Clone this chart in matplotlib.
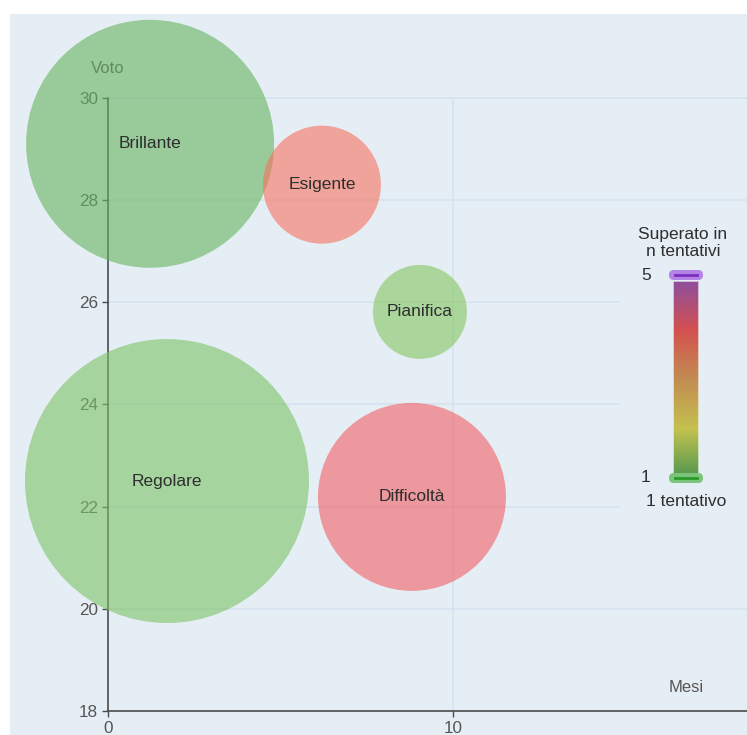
import numpy as np
import matplotlib
matplotlib.use("Agg")
from matplotlib import pyplot as plt
from matplotlib.colors import LinearSegmentedColormap
from matplotlib.patches import Rectangle, FancyBboxPatch
from matplotlib.lines import Line2D

plt.rcParams['font.family'] = ['Liberation Sans', 'DejaVu Sans']

#* dati
profili = ['Brillante', 'Esigente', 'Pianifica', 'Regolare', 'Difficoltà']
mesi = [1.22, 6.2, 9.04, 1.71, 8.81]
voto = [29.1, 28.3, 25.81, 22.5, 22.19]
ampiezza = [124, 59, 47, 142, 94]   # raggio bolla (px)
tentativi = [1, 4, 1, 1, 4]
x_ticks = [0, 10]
y_ticks = [18, 20, 22, 24, 26, 28, 30]

colori = ['#66b45d', '#f7715d', '#85c75f', '#7ac364', '#f35e64']
bg = '#e6eef5'
grid_col = '#d6e3ee'
txt_grey = '#555555'

W, H = 747, 735
fig = plt.figure(figsize=(W / 100, H / 100), dpi=100)

def fx(px):
    return px / W

def fy(py):
    return 1 - py / H

ax = fig.add_axes([fx(10), 0, 737 / W, 721 / H])
ax.set_facecolor(bg)
xmin, xmax = -2.84, 18.52
ax.set_xlim(xmin, xmax)
ax.set_ylim(17.53, 31.64)

# griglia
for y in y_ticks[1:]:
    ax.hlines(y, 0, xmax, color=grid_col, lw=1.2, zorder=0.5)
ax.vlines(10, 18, 30, color=grid_col, lw=1.2, zorder=0.5)

# sfondo legenda (copre la griglia)
ax.add_patch(Rectangle((fx(620), fy(520)), 127 / W, 305 / H, transform=fig.transFigure,
                       facecolor=bg, edgecolor='none', zorder=1, clip_on=False))

# assi
for s in ['top', 'right']:
    ax.spines[s].set_visible(False)
ax.spines['left'].set_position(('data', 0))
ax.spines['left'].set_bounds(18, 30)
ax.spines['bottom'].set_position(('data', 18))
ax.spines['bottom'].set_bounds(0, xmax)
for s in ['left', 'bottom']:
    ax.spines[s].set_color('#4a4a4a')
    ax.spines[s].set_linewidth(1.2)
ax.set_xticks(x_ticks)
ax.set_yticks(y_ticks)
ax.tick_params(direction='out', length=4, width=1, colors='#4a4a4a',
               labelcolor=txt_grey, labelsize=12.3, pad=3)

ax.text(0, 30.58, 'Voto', ha='center', va='center', fontsize=12, color=txt_grey, zorder=2)
ax.text(16.75, 18.45, 'Mesi', ha='center', va='center', fontsize=12, color=txt_grey, zorder=2)

# bolle
sizes = [(2 * r * 0.72) ** 2 for r in ampiezza]
ax.scatter(mesi, voto, s=sizes, c=colori, alpha=0.6, linewidths=0, zorder=3, clip_on=False)
for nome, x, y in zip(profili, mesi, voto):
    ax.text(x, y, nome, ha='center', va='center', fontsize=12.5, color='#2e2e2e', zorder=5)

# legenda a barra di colore
cmap = LinearSegmentedColormap.from_list('tentativi', [
    (0.0, '#5a9a4f'), (0.23, '#c3c24f'), (0.5, '#c38a52'),
    (0.75, '#d45050'), (1.0, '#8e4f9e')])
cax = fig.add_axes([fx(673), fy(474), 26 / W, 193 / H])
cax.imshow(np.linspace(0, 1, 256)[:, None], aspect='auto', cmap=cmap, origin='lower',
           extent=[0, 1, min(tentativi), max(tentativi) + 4])
cax.axis('off')
cax.add_patch(Rectangle((0, 0), 1, 1, transform=cax.transAxes, facecolor='none',
                        edgecolor='#f2f4f8', lw=1.2, alpha=0.8))

for (ytop, fc, lc) in [(270, '#b384e6', '#7a2fc0'), (473, '#7cc47c', '#2a9a2a')]:
    fig.patches.append(FancyBboxPatch((fx(669), fy(ytop + 10)), 34 / W, 10 / H,
                                      boxstyle='round,pad=0,rounding_size=0.0065',
                                      transform=fig.transFigure, facecolor=fc,
                                      edgecolor='none', zorder=4))
    fig.lines.append(Line2D([fx(675), fx(697)], [fy(ytop + 5), fy(ytop + 5)],
                            transform=fig.transFigure, color=lc, lw=2, zorder=5))

fig.text(fx(683), fy(243), 'Superato in\nn tentativi', ha='center', va='center',
         fontsize=12.5, color='#2e2e2e', linespacing=1.15)
fig.text(fx(646), fy(275), '5', ha='center', va='center', fontsize=12.5, color='#2e2e2e')
fig.text(fx(646), fy(478), '1', ha='center', va='center', fontsize=12.5, color='#2e2e2e')
fig.text(fx(686), fy(502), '1 tentativo', ha='center', va='center', fontsize=12.5,
         color='#2e2e2e')

fig.savefig('out.png', dpi=100, facecolor='white')
